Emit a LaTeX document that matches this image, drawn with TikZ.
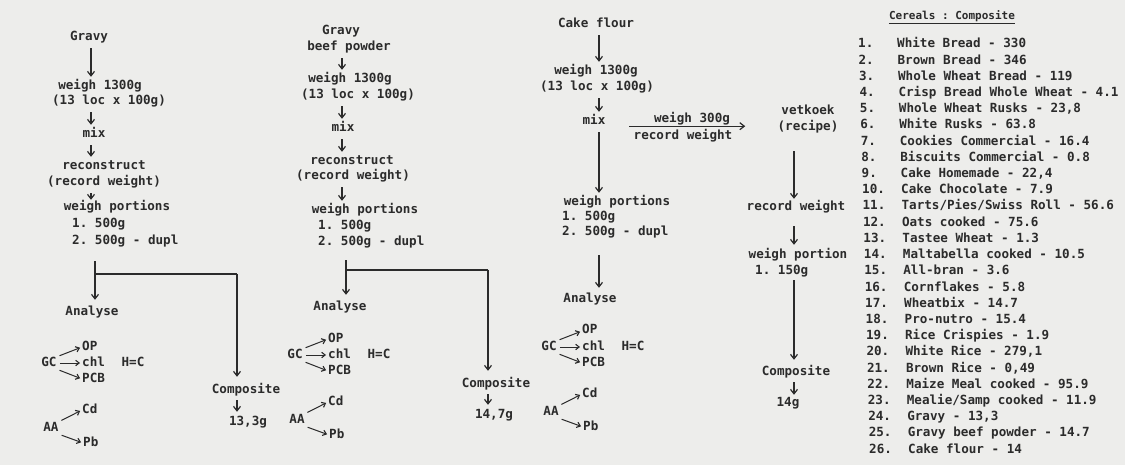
\documentclass[tikz,border=0pt]{standalone}
\usepackage{xcolor}
\usepackage{fontspec}
\setmonofont{DejaVu Sans Mono}
\usepackage{tikz}
\usetikzlibrary{arrows.meta, positioning, calc}

\definecolor{paper}{HTML}{EDEDEB}
\definecolor{ink}{HTML}{2B2B2B}
\newcommand{\typed}{\ttfamily\bfseries\fontsize{12.6}{16.2}\selectfont}

\begin{document}
\begin{tikzpicture}[x=1pt, y=-1pt,
  txt/.style={inner sep=0pt, text=ink, font=\typed,
              text height=9pt, text depth=3pt},
  arr/.style={-{Straight Barb[length=4.5pt,width=7pt,line width=1.2pt]},
              line width=1.1pt, ink, shorten <=4pt, shorten >=4pt},
  sarr/.style={-{Straight Barb[length=3.5pt,width=5.5pt,line width=1.1pt]},
               line width=1pt, ink, shorten <=3pt, shorten >=2pt},
  rule/.style={line width=1.1pt, ink}
]
\fill[paper] (0,0) rectangle (1125,465);
\useasboundingbox (0,0) rectangle (1125,465);

% Column 1: gravy
\coordinate (s1) at (91,0);
\node[txt] (g1a) at (89,38) {Gravy};
\node[txt] (g1b) at (100,87) {weigh 1300g};
\node[txt] (g1c) at (109,102) {(13 loc x 100g)};
\node[txt] (g1d) at (94,135) {mix};
\node[txt] (g1e) at (104,167) {reconstruct};
\node[txt] (g1f) at (104,183) {(record weight)};
\node[txt] (g1g) at (117,208) {weigh portions};
\node[txt, anchor=west] (g1h) at (72,225) {1. 500g};
\node[txt, anchor=west] (g1i) at (72,242) {2. 500g - dupl};
\node[txt] (an1) at (92,313) {Analyse};
\node[txt] (cp1) at (246,390) {Composite};
\node[txt] (wt1) at (248,422) {13,3g};

\draw[arr] (g1a.south -| s1) -- (g1b.north -| s1);
\draw[arr] (g1c.south -| s1) -- (g1d.north -| s1);
\draw[arr] (g1d.south -| s1) -- (g1e.north -| s1);
\draw[arr, shorten >=2pt] (g1f.south -| s1) -- (g1g.north -| s1);

% split into analysis and composite
\coordinate (j1) at (95,274);
\coordinate (k1) at (237,274);
\draw[arr, shorten <=13pt, shorten >=7pt] (g1i.south -| j1) -- (an1.north -| j1);
\draw[rule] (j1) -- (k1);
\draw[arr, shorten <=0pt, shorten >=7pt] (k1) -- (k1 |- cp1.north);
\draw[arr] (cp1.south -| k1) -- (wt1.north -| k1);

% Column 2: gravy beef powder
\coordinate (s2) at (342,0);
\node[txt] (g2a) at (341,32) {Gravy};
\node[txt] (g2b) at (349,48) {beef powder};
\node[txt] (g2c) at (350,80) {weigh 1300g};
\node[txt] (g2d) at (358,96) {(13 loc x 100g)};
\node[txt] (g2e) at (343,129) {mix};
\node[txt] (g2f) at (352,162) {reconstruct};
\node[txt] (g2g) at (353,177) {(record weight)};
\node[txt] (g2h) at (365,211) {weigh portions};
\node[txt, anchor=west] (g2i) at (318,227) {1. 500g};
\node[txt, anchor=west] (g2j) at (318,243) {2. 500g - dupl};
\node[txt] (an2) at (340,307) {Analyse};
\node[txt] (cp2) at (496,384) {Composite};
\node[txt] (wt2) at (494,415) {14,7g};

\draw[arr] (g2b.south -| s2) -- (g2c.north -| s2);
\draw[arr] (g2d.south -| s2) -- (g2e.north -| s2);
\draw[arr] (g2e.south -| s2) -- (g2f.north -| s2);
\draw[arr] (g2g.south -| s2) -- (g2h.north -| s2);

\coordinate (j2) at (346,270);
\coordinate (k2) at (488,270);
\draw[arr, shorten <=11pt, shorten >=6pt] (g2j.south -| j2) -- (an2.north -| j2);
\draw[rule] (j2) -- (k2);
\draw[arr, shorten <=0pt, shorten >=7pt] (k2) -- (k2 |- cp2.north);
\draw[arr] (cp2.south -| k2) -- (wt2.north -| k2);

% Column 3: cake flour
\coordinate (s3) at (599,0);
\node[txt] (g3a) at (596,25) {Cake flour};
\node[txt] (g3b) at (596,72) {weigh 1300g};
\node[txt] (g3c) at (597,88) {(13 loc x 100g)};
\node[txt] (g3d) at (594,122) {mix};
\node[txt] (g3e) at (617,203) {weigh portions};
\node[txt, anchor=west] (g3f) at (562,218) {1. 500g};
\node[txt, anchor=west] (g3g) at (562,233) {2. 500g - dupl};
\node[txt] (an3) at (590,299) {Analyse};

\draw[arr] (g3a.south -| s3) -- (g3b.north -| s3);
\draw[arr] (g3c.south -| s3) -- (g3d.north -| s3);
\draw[arr] (g3d.south -| s3) -- (g3e.north -| s3);
\draw[arr, shorten <=16pt, shorten >=5pt] (g3g.south -| s3) -- (an3.north -| s3);

% Side branch to vetkoek
\node[txt] (w300) at (692,120) {weigh 300g};
\node[txt] (rw3) at (683,137) {record weight};

% Column 4: vetkoek
\coordinate (s4) at (794,0);
\node[txt] (g4a) at (808,112) {vetkoek};
\node[txt] (g4b) at (808,128) {(recipe)};
\node[txt] (g4c) at (796,208) {record weight};
\node[txt] (g4d) at (798,256) {weigh portion};
\node[txt, anchor=west] (g4e) at (755,272) {1. 150g};
\node[txt] (cp4) at (796,372) {Composite};
\node[txt] (wt4) at (788,403) {14g};

\draw[arr, shorten <=-4pt, shorten >=36pt] (w300.south -| rw3.west) -- (w300.south -| g4a.west);
\draw[arr, shorten <=17pt, shorten >=3pt] (g4b.south -| s4) -- (g4c.north -| s4);
\draw[arr, shorten <=12pt, shorten >=5pt] (g4c.south -| s4) -- (g4d.north -| s4);
\draw[arr, shorten <=2pt, shorten >=6pt] (g4e.south -| s4) -- (cp4.north -| s4);
\draw[arr, shorten <=4pt, shorten >=2pt] (cp4.south -| s4) -- (wt4.north -| s4);

% Analyses: GC and AA
\foreach \c/\x/\y in {1/49/363, 2/295/355, 3/549/347} {
  \node[txt] (gc\c) at (\x,\y) {GC};
  \node[txt, anchor=west] (op\c) at (\x+33,\y-16) {OP};
  \node[txt, anchor=west] (chl\c) at (\x+33,\y) {chl};
  \node[txt, anchor=west] (pcb\c) at (\x+33,\y+16) {PCB};
  \node[txt] (hc\c) at (\x+84,\y) {H=C};
  \node[txt, anchor=west] (cd\c) at (\x+33,\y+47) {Cd};
  \node[txt] (aa\c) at (\x+2,\y+65) {AA};
  \node[txt, anchor=west] (pb\c) at (\x+34,\y+80) {Pb};
  \draw[sarr] (gc\c.north east) -- (op\c.west);
  \draw[sarr] (gc\c.east) -- (chl\c.west);
  \draw[sarr] (gc\c.south east) -- (pcb\c.west);
  \draw[sarr] (aa\c.north east) -- (cd\c.west);
  \draw[sarr] (aa\c.south east) -- (pb\c.west);
}

% Composite list
\node[txt, font=\ttfamily\bfseries\fontsize{11}{14}\selectfont] (head) at (952,17) {Cereals : Composite};
\draw[rule, line width=0.8pt] (head.south west) -- (head.south east);

\foreach \food [count=\k] in {White Bread - 330, Brown Bread - 346,
    Whole Wheat Bread - 119, Crisp Bread Whole Wheat - 4.1,
    {Whole Wheat Rusks - 23,8}, White Rusks - 63.8,
    Cookies Commercial - 16.4, Biscuits Commercial - 0.8,
    {Cake Homemade - 22,4}, Cake Chocolate - 7.9,
    Tarts/Pies/Swiss Roll - 56.6, Oats cooked - 75.6,
    Tastee Wheat - 1.3, Maltabella cooked - 10.5, All-bran - 3.6,
    Cornflakes - 5.8, Wheatbix - 14.7, Pro-nutro - 15.4,
    Rice Crispies - 1.9, {White Rice - 279,1}, {Brown Rice - 0,49},
    Maize Meal cooked - 95.9, Mealie/Samp cooked - 11.9,
    {Gravy - 13,3}, Gravy beef powder - 14.7, Cake flour - 14} {
  \node[txt, anchor=west] (n\k) at ({858+0.44*(\k-1)},{45+16.2*(\k-1)}) {\k.};
  \node[txt, anchor=west] (f\k) at ({897+0.44*(\k-1)},{45+16.2*(\k-1)}) {\food};
}
\end{tikzpicture}
\end{document}
